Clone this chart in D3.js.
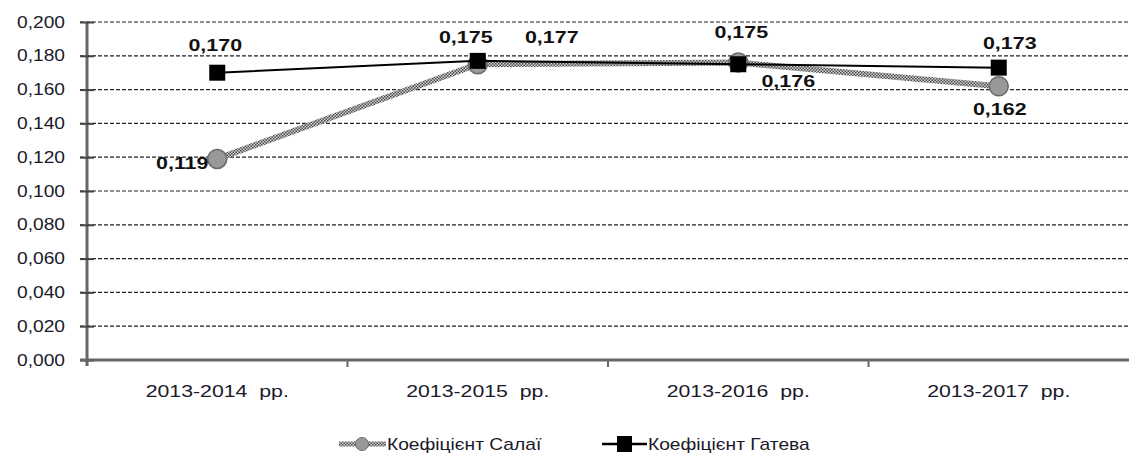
<!DOCTYPE html>
<html>
<head>
<meta charset="utf-8">
<script src="https://cdn.jsdelivr.net/npm/d3@7"></script>
<style>
  body { margin: 0; background: #fff; }
  svg { display: block; font-family: "Liberation Sans", Arial, sans-serif; }
</style>
</head>
<body>
<svg width="1129" height="468"></svg>
<script>
// data
var periods = ["2013-2014  рр.", "2013-2015  рр.", "2013-2016  рр.", "2013-2017  рр."];
var salai = [0.119, 0.175, 0.176, 0.162];
var gateva = [0.170, 0.177, 0.175, 0.173];
var yTicks = [0, 0.02, 0.04, 0.06, 0.08, 0.1, 0.12, 0.14, 0.16, 0.18, 0.2];
var seriesNames = ["Коефіцієнт Салаї", "Коефіцієнт Гатева"];

// label offsets (dx, dy) relative to the marker
var salaiLab = [[-35, 10], [-12, -21], [50, 24], [1, 29]];
var gatevaLab = [[-2, -22], [74, -18], [3, -26], [11, -19]];

var svg = d3.select("svg"),
    mLeft = 87, mRight = 1129, mTop = 22, mBottom = 360;

var x = d3.scaleBand().domain(periods).range([mLeft, mRight]);
var y = d3.scaleLinear().domain([0, 0.2]).range([mBottom, mTop]);
var fmt = function(v) { return d3.format(".3f")(v).replace(".", ","); };

// the original text is drawn horizontally stretched
function stretch(sel, sx) {
  sel.each(function() {
    var t = d3.select(this);
    var x0 = +t.attr("x") || 0;
    t.attr("x", x0 / sx).attr("transform", "scale(" + sx + ",1)");
  });
}

var defs = svg.append("defs");
var pat = defs.append("pattern").attr("id", "hatch")
  .attr("width", 3).attr("height", 3).attr("patternUnits", "userSpaceOnUse");
pat.append("rect").attr("width", 3).attr("height", 3).attr("fill", "#d4d4d4");
pat.append("rect").attr("width", 1.5).attr("height", 1.5).attr("fill", "#4a4a4a");
pat.append("rect").attr("x", 1.5).attr("y", 1.5).attr("width", 1.5).attr("height", 1.5).attr("fill", "#4a4a4a");

// gridlines
svg.append("g").selectAll("line")
  .data(yTicks.filter(function(d) { return d > 0; }))
  .enter().append("line")
  .attr("x1", mLeft - 7).attr("x2", mRight)
  .attr("y1", function(d) { return y(d); }).attr("y2", function(d) { return y(d); })
  .attr("stroke", "#222").attr("stroke-width", 1.2)
  .attr("stroke-dasharray", "4,2");

// y axis
var yAxis = svg.append("g")
  .attr("transform", "translate(" + mLeft + ",0)")
  .call(d3.axisLeft(y).tickValues(yTicks).tickFormat(fmt).tickSize(7).tickPadding(15));
yAxis.select(".domain").attr("stroke", "#666").attr("stroke-width", 3)
  .attr("d", "M0," + mTop + "V" + (mBottom + 6));
yAxis.selectAll(".tick line").attr("x1", 7).attr("stroke", "#444").attr("stroke-width", 2);
yAxis.selectAll("text").attr("font-size", 16).attr("fill", "#1a1a2a").call(stretch, 1.2);

// x axis
var xAxis = svg.append("g")
  .attr("transform", "translate(0," + mBottom + ")")
  .call(d3.axisBottom(x).tickSize(0).tickPadding(26));
xAxis.select(".domain").attr("stroke", "#666").attr("stroke-width", 3)
  .attr("d", "M" + (mLeft - 7) + ",0H" + mRight);
xAxis.selectAll("text").attr("font-size", 16).attr("fill", "#1a1a2a")
  .style("white-space", "pre").call(stretch, 1.33);
svg.append("g").selectAll("line")
  .data(periods.slice(1))
  .enter().append("line")
  .attr("x1", function(d) { return x(d); }).attr("x2", function(d) { return x(d); })
  .attr("y1", mBottom).attr("y2", mBottom + 7)
  .attr("stroke", "#666").attr("stroke-width", 2);

var cx = function(d, i) { return x(periods[i]) + x.bandwidth() / 2; };
var line = d3.line().x(cx).y(function(d) { return y(d); });

// Салаї line
svg.append("path").datum(salai)
  .attr("d", line).attr("fill", "none")
  .attr("stroke", "url(#hatch)").attr("stroke-width", 6);
svg.append("g").selectAll("circle").data(salai).enter().append("circle")
  .attr("cx", cx).attr("cy", function(d) { return y(d); }).attr("r", 9.5)
  .attr("fill", "#999").attr("stroke", "#6a6a6a").attr("stroke-width", 1.5);

// Гатева line
svg.append("path").datum(gateva)
  .attr("d", line).attr("fill", "none")
  .attr("stroke", "#000").attr("stroke-width", 2);
svg.append("g").selectAll("rect").data(gateva).enter().append("rect")
  .attr("x", function(d, i) { return cx(d, i) - 8; })
  .attr("y", function(d) { return y(d) - 8; })
  .attr("width", 16).attr("height", 16).attr("fill", "#000");

// data labels
function labels(data, offs) {
  svg.append("g").selectAll("text").data(data).enter().append("text")
    .attr("x", function(d, i) { return cx(d, i) + offs[i][0]; })
    .attr("y", function(d, i) { return y(d) + offs[i][1]; })
    .attr("text-anchor", "middle")
    .attr("font-size", 16.5).attr("font-weight", "bold").attr("fill", "#111")
    .text(fmt)
    .call(stretch, 1.3);
}
labels(salai, salaiLab);
labels(gateva, gatevaLab);

// legend
var leg = svg.append("g").attr("transform", "translate(0,444)");
leg.append("line").attr("x1", 339).attr("x2", 386).attr("y1", 0).attr("y2", 0)
  .attr("stroke", "url(#hatch)").attr("stroke-width", 5);
leg.append("circle").attr("cx", 362).attr("cy", 0).attr("r", 6.5)
  .attr("fill", "#999").attr("stroke", "#6a6a6a");
leg.append("text").attr("x", 387).attr("y", 6).attr("font-size", 16)
  .attr("fill", "#1a1a2a").text(seriesNames[0]).call(stretch, 1.2);
leg.append("line").attr("x1", 602).attr("x2", 647).attr("y1", 0).attr("y2", 0)
  .attr("stroke", "#000").attr("stroke-width", 2.5);
leg.append("rect").attr("x", 617).attr("y", -8).attr("width", 15).attr("height", 16).attr("fill", "#000");
leg.append("text").attr("x", 648).attr("y", 6).attr("font-size", 16)
  .attr("fill", "#1a1a2a").text(seriesNames[1]).call(stretch, 1.2);
</script>
</body>
</html>
